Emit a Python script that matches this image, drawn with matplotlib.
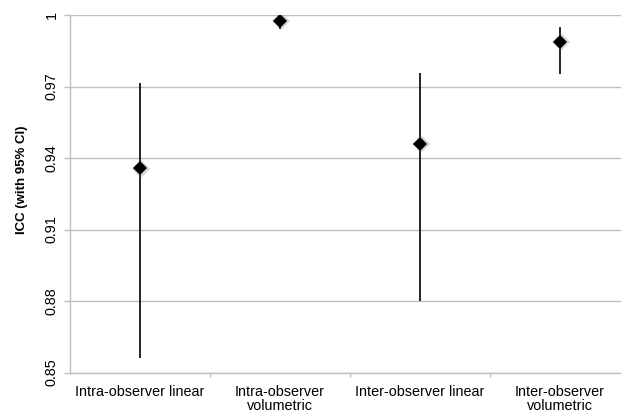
import matplotlib
matplotlib.use("Agg")
import matplotlib.pyplot as plt
import numpy as np

plt.rcParams['font.family'] = ['Liberation Sans', 'DejaVu Sans']

categories = ["Intra-observer linear", "Intra-observer\nvolumetric",
              "Inter-observer linear", "Inter-observer\nvolumetric"]
icc = [0.9356, 0.9976, 0.9459, 0.9888]
ci_low = [0.8562, 0.9940, 0.8800, 0.9752]
ci_high = [0.9716, 0.9995, 0.9758, 0.9948]
yticks = [0.85, 0.88, 0.91, 0.94, 0.97, 1.0]
ytick_labels = ["0.85", "0.88", "0.91", "0.94", "0.97", "1"]

grid_col = "#BFBFBF"

fig = plt.figure(figsize=(6.21, 4.12), dpi=100)
ax = fig.add_axes([70 / 621, 1 - 372.5 / 412, 1 - 70 / 621, (372.5 - 15) / 412])

x = np.arange(1, len(categories) + 1)
icc = np.array(icc)
lo = icc - np.array(ci_low)
hi = np.array(ci_high) - icc

ax.errorbar(x, icc, yerr=[lo, hi], fmt='none', ecolor='black', elinewidth=1.2,
            capsize=0, zorder=3)
# soft halo behind the diamonds
ax.plot(x + 0.004, icc - 0.0002, linestyle='none', marker='D', markersize=9,
        color='#777777', alpha=0.3, markeredgewidth=0, zorder=4)
ax.plot(x, icc, linestyle='none', marker='D', markersize=7,
        color='black', markeredgewidth=0, zorder=5)

ax.set_ylim(0.85, 1.0)
ax.set_xlim(0.5, 0.5 + (621 - 70) / 140)
ax.set_yticks(yticks)
ax.set_yticklabels(ytick_labels, rotation=90, va='center', fontsize=10.4)
ax.yaxis.grid(True, color=grid_col, linewidth=1.0)
ax.set_axisbelow(True)

ax.set_xticks(x)
ax.set_xticklabels(categories, fontsize=10.4, linespacing=1.0)
ax.set_xticks(np.arange(1.5, 4.5, 1.0), minor=True)
ax.tick_params(axis='x', which='major', length=0, pad=9)
ax.tick_params(axis='x', which='minor', length=3, color=grid_col, width=1)
ax.tick_params(axis='y', length=4, color=grid_col, width=1, pad=4)

for s in ['top', 'right']:
    ax.spines[s].set_visible(False)
for s in ['left', 'bottom']:
    ax.spines[s].set_color(grid_col)
    ax.spines[s].set_linewidth(1.0)

fig.text(22 / 621, 1 - 180 / 412, "ICC (with 95% CI)", rotation=90,
         ha='center', va='center', fontsize=9.5, fontweight='bold')

fig.savefig("out.png", dpi=100)
